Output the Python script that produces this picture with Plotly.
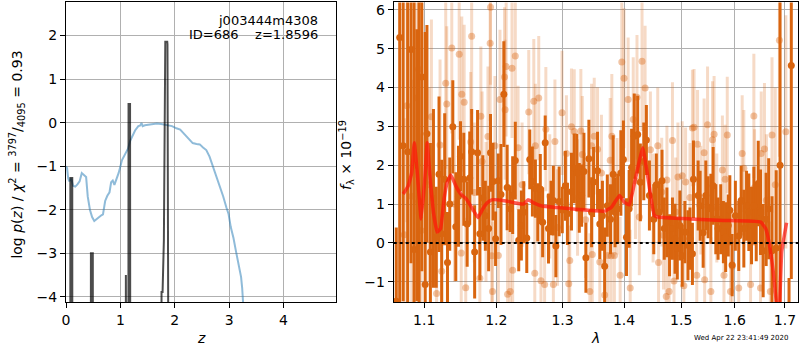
import plotly.graph_objects as go

# ---------------- Left panel: log p(z) ----------------
pz_z = [0.0, 0.02, 0.04, 0.06, 0.08, 0.10, 0.13, 0.17, 0.21, 0.25, 0.29, 0.33, 0.37, 0.40, 0.44,
        0.48, 0.52, 0.56, 0.60, 0.65, 0.68, 0.72, 0.76, 0.80, 0.83, 0.86, 0.89, 0.93, 0.97, 1.03,
        1.09, 1.14, 1.18, 1.23, 1.27, 1.33, 1.36, 1.39, 1.41, 1.45, 1.50, 1.55, 1.60, 1.67, 1.75,
        1.85, 1.95, 2.03, 2.10, 2.16, 2.22, 2.28, 2.33, 2.40, 2.46, 2.52, 2.58, 2.64, 2.70, 2.77,
        2.83, 2.89, 2.95, 2.99, 3.03, 3.08, 3.13, 3.18, 3.22, 3.24, 3.26, 3.28]
pz_logp = [-1.00, -1.05, -1.28, -1.35, -1.30, -1.30, -1.45, -1.47, -1.42, -1.35, -1.16, -1.20, -1.25,
           -1.70, -2.00, -2.17, -2.26, -2.22, -2.17, -2.13, -2.11, -1.80, -1.68, -1.60, -1.37, -1.33,
           -1.43, -1.30, -1.15, -0.86, -0.72, -0.60, -0.42, -0.28, -0.18, -0.08, -0.07, -0.01, -0.08,
           -0.06, -0.05, -0.04, -0.02, -0.02, -0.03, -0.06, -0.08, -0.13, -0.16, -0.24, -0.33, -0.40,
           -0.47, -0.49, -0.50, -0.57, -0.63, -0.78, -1.00, -1.23, -1.46, -1.69, -1.95, -2.10, -2.40,
           -2.65, -2.98, -3.30, -3.55, -3.80, -4.10, -4.60]

chi_z = [0.078, 0.080, 0.115, 0.117,
         0.456, 0.458, 0.493, 0.495,
         1.099, 1.101, 1.112, 1.146, 1.150, 1.178, 1.183,
         1.755, 1.757, 1.776, 1.800, 1.826, 1.862, 1.866, 1.890]
chi_logp = [-9, -1.27, -1.27, -9,
            -9, -3.0, -3.0, -9,
            -9, -3.5, -9, -9, 0.43, 0.43, -9,
            -9, -3.89, -3.89, -2.70, 1.86, 1.86, 1.80, -9]

# ---------------- Right panel: spectrum ----------------
dark_wave = [1.0636, 1.068, 1.0725, 1.0783, 1.0827, 1.0867, 1.0903, 1.0933, 1.0969, 1.1014,
             1.1037, 1.1083, 1.1124, 1.1162, 1.1199, 1.1235, 1.1276, 1.1314, 1.1345, 1.1387,
             1.1428, 1.1465, 1.1493, 1.1539, 1.1586, 1.1622, 1.1649, 1.1691, 1.1732, 1.1765,
             1.1807, 1.1843, 1.1890, 1.1917, 1.1953, 1.1990, 1.2030, 1.2069, 1.2110, 1.2159,
             1.2204, 1.2240, 1.2279, 1.2330, 1.2369, 1.2405, 1.2450, 1.2495, 1.2535, 1.2580,
             1.2616, 1.2655, 1.2691, 1.2730, 1.2781, 1.2820, 1.2856, 1.2895, 1.2946, 1.2995,
             1.3044, 1.3076, 1.3140, 1.3184, 1.3226, 1.3265, 1.3302, 1.3339, 1.3371, 1.3419,
             1.3463, 1.3495, 1.3560, 1.3597, 1.3640, 1.3677, 1.3721, 1.3774, 1.3818, 1.3850,
             1.3893, 1.3947, 1.3990, 1.4042, 1.4087, 1.4129, 1.4174, 1.4233, 1.4279, 1.4338,
             1.4383, 1.4436, 1.4512, 1.4557, 1.4610, 1.4657, 1.4697, 1.4744, 1.4791, 1.4843,
             1.4889, 1.4930, 1.4976, 1.5019, 1.5067, 1.5123, 1.5160, 1.5205, 1.5224, 1.5310,
             1.5347, 1.5403, 1.5453, 1.5496, 1.5547, 1.5590, 1.5640, 1.5683, 1.5733, 1.5784,
             1.5827, 1.5877, 1.5907, 1.5951, 1.6014, 1.6079, 1.6126, 1.6178, 1.6231, 1.6276,
             1.6329, 1.6375, 1.6422, 1.6462, 1.6507, 1.6560, 1.6619, 1.6671, 1.6738, 1.6823,
             1.6901, 1.7085, 1.7132]
dark_flux = [-1.50, 5.29, 2.50, 2.35, 4.98, -0.17, 2.00, 1.07, 4.27, -1.07,
             2.81, -0.23, 1.15, 0.15, 1.77, 0.24, 1.64, -0.50, 1.00, 2.99,
             0.42, 1.20, 2.23, 1.64, 0.49, 1.67, 2.35, -0.23, 2.32, 0.24,
             1.16, 0.70, 0.37, 2.32, 1.58, 0.11, 1.60, 1.25, 3.83, 1.43,
             0.88, 1.23, 2.12, 0.07, 0.45, 0.79, 0.13, 2.15, 1.58, 1.40,
             0.79, 1.39, 0.53, 2.58, 0.37, 0.90, 1.09, -0.08, 1.07, 0.85,
             1.47, 0.75, 1.32, 1.92, 1.81, 1.16, 1.22, 1.84, -0.38, 2.17,
             0.79, 1.57, 1.86, 0.49, 0.70, -0.60, 0.96, 0.61, 1.77, 0.79,
             0.88, 1.80, 2.15, 0.15, 0.88, 1.94, 2.75, 2.79, 1.56, 2.10,
             2.65, 1.22, 0.61, 1.50, 0.79, 1.60, 0.37, 0.53, -0.06, 0.37,
             0.11, -0.14, 0.45, -0.33, 0.28, -0.06, 0.11, -0.28, 1.64, 1.22,
             0.96, 0.26, 1.22, 0.92, 0.88, 1.47, 0.61, 0.37, 0.61, 0.28,
             0.15, 0.45, 0.84, -0.57, 0.70, 0.18, 1.09, 0.37, 0.96, 0.79,
             0.45, 0.96, 0.53, 1.53, 0.79, -0.20, 0.61, 0.88, -0.20, -0.13,
             2.00, -2.50, 4.57]
dark_err = [1.9, 7.0, 4.0, 6.0, 5.5, 6.5, 3.5, 5.5, 5.0, 6.5,
            2.8, 2.8, 2.3, 1.3, 2.0, 1.9, 1.7, 1.3, 1.2, 1.2,
            1.4, 1.3, 0.9, 1.2, 1.1, 1.2, 1.1, 1.2, 1.1, 1.2,
            1.1, 0.9, 1.1, 1.0, 1.0, 0.7, 0.7, 1.3, 1.36, 1.1,
            0.6, 1.0, 1.0, 0.8, 0.9, 0.8, 0.9, 0.77, 0.9, 0.75,
            0.75, 0.9, 0.9, 0.7, 0.9, 0.7, 0.9, 0.8, 0.9, 0.6,
            0.9, 0.8, 1.0, 0.9, 1.0, 0.9, 0.8, 1.0, 0.9, 1.0,
            0.9, 0.9, 1.0, 0.9, 0.9, 1.0, 0.8, 0.9, 1.0, 0.9,
            0.9, 1.1, 1.0, 1.0, 1.0, 1.0, 1.1, 1.0, 1.0, 1.0,
            0.9, 0.9, 0.9, 0.8, 0.8, 0.8, 0.8, 0.9, 0.8, 0.8,
            0.9, 0.8, 0.9, 0.8, 0.8, 0.9, 0.8, 0.8, 1.0, 0.9,
            0.9, 0.9, 0.9, 0.8, 0.9, 1.0, 0.9, 0.8, 0.9, 0.8,
            0.9, 0.8, 0.9, 0.8, 0.9, 0.9, 0.9, 1.0, 0.9, 1.0,
            1.0, 1.0, 1.0, 1.1, 1.1, 1.2, 1.2, 1.3, 1.4, 2.0,
            6.0, 1.6, 5.5]

light_wave = [1.0739, 1.0773, 1.0836, 1.0903, 1.0925, 1.0960, 1.1065, 1.1097, 1.1166, 1.1213,
              1.1235, 1.1290, 1.1304, 1.1373, 1.1410, 1.1475, 1.1503, 1.1511, 1.1544, 1.1566,
              1.1635, 1.1649, 1.1686, 1.1765, 1.1779, 1.1797, 1.1852, 1.1880, 1.1912, 1.1917,
              1.1935, 1.1945, 1.1981, 1.2030, 1.2054, 1.2120, 1.2129, 1.2144, 1.2165, 1.2204,
              1.2230, 1.2240, 1.2279, 1.2320, 1.2380, 1.2480, 1.2556, 1.2571, 1.2580, 1.2631,
              1.2665, 1.2721, 1.2740, 1.2800, 1.2856, 1.2880, 1.2920, 1.2991, 1.3060, 1.3097,
              1.3113, 1.3140, 1.3184, 1.3237, 1.3290, 1.3313, 1.3366, 1.3435, 1.3463, 1.3474,
              1.3506, 1.3560, 1.3597, 1.3624, 1.3677, 1.3732, 1.3769, 1.3785, 1.3796, 1.3839,
              1.3882, 1.3935, 1.3963, 1.4000, 1.4070, 1.4105, 1.4157, 1.4195, 1.4221, 1.4261,
              1.4308, 1.4361, 1.4453, 1.4500, 1.4582, 1.4596, 1.4652, 1.4683, 1.4732, 1.4744,
              1.4784, 1.4843, 1.4871, 1.4901, 1.4941, 1.5019, 1.5049, 1.5080, 1.5160, 1.5205,
              1.5235, 1.5285, 1.5299, 1.5360, 1.5421, 1.5431, 1.5485, 1.5547, 1.5578, 1.5608,
              1.5659, 1.5765, 1.5795, 1.5817, 1.5858, 1.5920, 1.5957, 1.6079, 1.6146, 1.6178,
              1.6310, 1.6375, 1.6389, 1.6507, 1.6521, 1.6586, 1.6625, 1.6704, 1.6738, 1.6803,
              1.6888, 1.7020]
light_flux = [0.21, 3.53, 1.20, 3.73, 4.47, 0.32, 1.50, 3.25, -1.30, 2.52,
              -0.73, 4.11, 3.58, 5.02, 1.00, 4.86, -0.26, 3.83, 3.62, -1.15,
              2.60, 5.32, 1.30, -0.91, 3.26, 2.10, 0.80, 2.74, 5.14, 6.07,
              -0.33, -1.25, 2.50, -0.32, 3.69, 4.27, 3.43, 4.54, -1.32, -1.25,
              4.50, -0.70, 4.81, 2.45, 1.50, 3.37, 3.65, -0.78, 2.50, 3.73,
              -0.97, -1.07, 2.93, 1.20, -1.07, 2.61, 0.40, 3.35, 2.30, -1.05,
              -0.45, 2.99, 2.87, 1.17, 2.88, 2.28, 0.60, -1.25, 2.50, -0.30,
              2.75, 2.41, -0.49, 1.80, -1.34, -0.32, 2.13, -0.33, 2.75, -0.32,
              1.20, -0.83, 4.66, 4.24, 3.69, -1.16, 3.18, 1.60, 3.75, 0.67,
              4.68, 3.99, 2.40, 0.90, 2.50, -0.50, 1.31, 0.20, -1.38, 1.62,
              -1.25, 2.64, -0.98, 0.80, 1.70, 1.73, -1.10, 1.57, 1.17, 2.96,
              2.98, -0.83, 2.54, 1.10, 2.32, -0.95, 3.04, -1.25, 2.66, 2.80,
              0.90, 1.88, -0.83, 1.64, 2.78, -1.25, -0.60, -1.16, 2.30, 1.92,
              -1.07, 3.27, 1.43, -1.16, 2.30, 2.42, 1.10, -1.25, 2.78, 1.50,
              5.22, 2.86]
light_err = [3.0, 3.0, 3.0, 3.0, 3.0, 2.5, 2.5, 2.5, 2.0, 2.2,
             2.0, 2.2, 2.0, 2.2, 2.0, 2.2, 1.8, 2.0, 2.0, 1.8,
             1.8, 2.0, 1.8, 1.8, 1.8, 1.8, 1.8, 1.8, 2.0, 2.0,
             1.8, 1.8, 1.8, 1.8, 1.8, 1.8, 1.8, 1.8, 1.8, 1.6,
             1.8, 1.6, 1.8, 1.6, 1.6, 1.6, 1.6, 1.6, 1.6, 1.6,
             1.5, 1.5, 1.6, 1.6, 1.5, 1.6, 1.5, 1.6, 1.5, 1.5,
             1.5, 1.5, 1.6, 1.5, 1.6, 1.5, 1.5, 1.5, 1.6, 1.5,
             1.5, 1.6, 1.5, 1.5, 1.5, 1.5, 1.6, 1.5, 1.6, 1.5,
             1.5, 1.5, 1.8, 1.8, 1.6, 1.5, 1.6, 1.5, 1.6, 1.5,
             1.8, 1.6, 1.5, 1.4, 1.5, 1.4, 1.4, 1.4, 1.4, 1.4,
             1.4, 1.5, 1.4, 1.4, 1.4, 1.4, 1.4, 1.4, 1.4, 1.5,
             1.5, 1.4, 1.4, 1.4, 1.4, 1.4, 1.5, 1.4, 1.5, 1.5,
             1.4, 1.4, 1.4, 1.4, 1.5, 1.4, 1.4, 1.5, 1.5, 1.5,
             1.5, 1.6, 1.5, 1.6, 1.6, 1.7, 1.7, 1.8, 2.0, 2.5,
             3.0, 3.0]

model_wave = [1.0725, 1.079, 1.0836, 1.087, 1.0916, 1.096, 1.1005, 1.104, 1.108, 1.113,
              1.1175, 1.122, 1.1268, 1.131, 1.136, 1.1428, 1.1497, 1.1576, 1.166, 1.1738,
              1.1807, 1.1866, 1.1935, 1.208, 1.2225, 1.240, 1.247, 1.2555, 1.268, 1.293,
              1.3248, 1.3678, 1.379, 1.3924, 1.4002, 1.409, 1.4192, 1.432, 1.4406, 1.452,
              1.458, 1.516, 1.579, 1.651, 1.661, 1.6675, 1.6763, 1.683, 1.6868, 1.6935, 1.7034]
model_flux = [1.26, 1.47, 1.81, 2.58, 1.64, 0.62, 1.56, 2.58, 1.64, 0.71,
              0.28, 0.37, 1.14, 1.56, 1.75, 1.47, 1.26, 1.13, 0.88, 0.65,
              0.88, 1.03, 1.11, 1.10, 1.05, 1.00, 1.11, 1.03, 0.95, 0.91,
              0.86, 0.82, 0.92, 1.22, 1.05, 0.98, 1.64, 2.45, 1.72, 0.71,
              0.67, 0.62, 0.58, 0.54, 0.37, 0.03, -0.74, -1.60, -2.40, -0.23, 0.52]

z_ticks = [0, 1, 2, 3, 4]
logp_ticks = [-4, -3, -2, -1, 0, 1, 2]
wave_ticks = [1.1, 1.2, 1.3, 1.4, 1.5, 1.6, 1.7]
flux_ticks = [-1, 0, 1, 2, 3, 4, 5, 6]

ORANGE = "rgb(217,101,15)"
FONT = "DejaVu Sans"

fig = go.Figure()

fig.add_trace(go.Scatter(x=pz_z, y=pz_logp, mode="lines",
                         line=dict(color="rgba(31,119,180,0.5)", width=2),
                         xaxis="x", yaxis="y", showlegend=False))
fig.add_trace(go.Scatter(x=chi_z, y=chi_logp, mode="lines",
                         line=dict(color="rgba(0,0,0,0.7)", width=2),
                         xaxis="x", yaxis="y", showlegend=False))

fig.add_trace(go.Scatter(x=light_wave, y=light_flux, mode="markers",
                         marker=dict(color="rgba(217,101,15,0.38)", size=7, line=dict(width=0)),
                         error_y=dict(type="data", array=light_err, color="rgba(217,101,15,0.24)",
                                      thickness=3, width=0),
                         xaxis="x2", yaxis="y2", showlegend=False))
fig.add_trace(go.Scatter(x=dark_wave, y=dark_flux, mode="markers",
                         marker=dict(color=ORANGE, size=7, line=dict(width=0)),
                         error_y=dict(type="data", array=dark_err, color=ORANGE,
                                      thickness=3, width=0),
                         xaxis="x2", yaxis="y2", showlegend=False))
fig.add_trace(go.Scatter(x=model_wave, y=model_flux, mode="lines",
                         line=dict(color="rgba(255,20,10,0.7)", width=3.5, shape="spline", smoothing=0.3),
                         xaxis="x2", yaxis="y2", showlegend=False))

fig.add_shape(type="line", xref="x2 domain", yref="y2", x0=0, x1=1, y0=0, y1=0,
              line=dict(color="black", width=2, dash="dot"), layer="above")

axis_common = dict(showgrid=True, gridcolor="#b0b0b0", gridwidth=1, zeroline=False,
                   showline=True, linecolor="black", linewidth=1, mirror=True,
                   ticks="outside", ticklen=5, tickcolor="black",
                   tickfont=dict(family=FONT, size=14, color="black"))

y_dom = [0.1314, 0.9957]
fig.update_layout(
    width=800, height=350, margin=dict(l=0, r=0, t=0, b=0),
    paper_bgcolor="white", plot_bgcolor="white",
    font=dict(family=FONT, color="black"),
    xaxis=dict(domain=[0.0779, 0.4167], range=[0, 4.96], tickvals=z_ticks, anchor="y", **axis_common),
    yaxis=dict(domain=y_dom, range=[-4.13, 2.76], tickvals=logp_ticks, anchor="x", **axis_common),
    xaxis2=dict(domain=[0.4896, 0.998], type="log", range=[0.02544, 0.23753], tickvals=wave_ticks,
                ticktext=[str(v) for v in wave_ticks], anchor="y2", **axis_common),
    yaxis2=dict(domain=y_dom, range=[-1.53, 6.19], tickvals=flux_ticks, anchor="x2", **axis_common),
)

ann = [
    dict(text="j003444m4308", x=318 / 800, y=1 - 20 / 350, xanchor="right", yanchor="middle",
         font=dict(size=13)),
    dict(text="ID=686    z=1.8596", x=318 / 800, y=1 - 34 / 350, xanchor="right", yanchor="middle",
         font=dict(size=13)),
    dict(text="log <i>p</i>(<i>z</i>) / <i>χ</i><sup>2</sup> = <sup>3797</sup>/<sub>4095</sub> = 0.93",
         x=13 / 800, y=1 - 155 / 350, textangle=-90, xanchor="center", yanchor="middle",
         font=dict(size=14)),
    dict(text="<i>f</i><sub>λ</sub> × 10<sup>−19</sup>", x=344 / 800, y=1 - 155 / 350, textangle=-90,
         xanchor="center", yanchor="middle", font=dict(size=14)),
    dict(text="<i>z</i>", x=198 / 800, y=1 - 340 / 350, xanchor="center", yanchor="middle",
         font=dict(size=14)),
    dict(text="<i>λ</i>", x=594 / 800, y=1 - 340 / 350, xanchor="center", yanchor="middle",
         font=dict(size=14)),
    dict(text="Wed Apr 22 23:41:49 2020", x=741 / 800, y=1 - 340 / 350, xanchor="center",
         yanchor="middle", font=dict(size=7)),
]
for a in ann:
    a.update(xref="paper", yref="paper", showarrow=False)
    a.setdefault("font", {})
    a["font"].setdefault("family", FONT)
    a["font"].setdefault("color", "black")
fig.update_layout(annotations=ann)

fig.write_html("out.html", config={"displayModeBar": False},
               post_script="document.body.style.margin='0';document.body.style.padding='0';"
                           "document.body.style.overflow='hidden';")
